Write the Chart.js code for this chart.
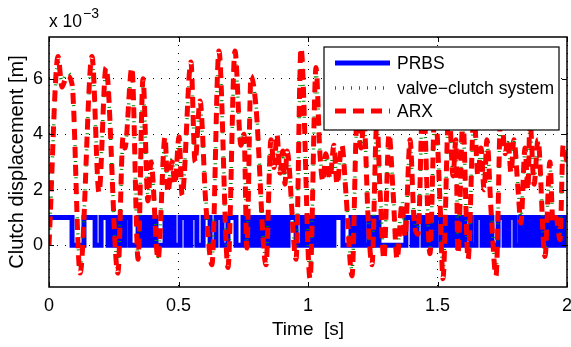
<!DOCTYPE html>
<html><head><meta charset="utf-8">
<script src="https://cdn.jsdelivr.net/npm/chart.js@4.4.0/dist/chart.umd.min.js"></script>
<style>html,body{margin:0;padding:0;background:#fff}#wrap{width:571px;height:347px;position:relative}</style>
</head><body><div id="wrap"><canvas id="c"></canvas></div>
<script>
// Tick values and labels
const timeTicks = [0, 0.5, 1, 1.5, 2];
const timeTickLabels = ['0', '0.5', '1', '1.5', '2'];
const dispTicks = [0, 2, 4, 6];           // in units of 10^-3 m
const dispTickLabels = ['0', '2', '4', '6'];

// Time stamps of the turning points of the responses [s]
const respT = [
  0.000, 0.035, 0.050, 0.069, 0.089, 0.120, 0.166, 0.193, 0.220, 0.266,
  0.286, 0.293, 0.320, 0.344, 0.363, 0.382, 0.394, 0.421, 0.448, 0.459,
  0.475, 0.486, 0.502, 0.514, 0.548, 0.564, 0.583, 0.606, 0.629, 0.656,
  0.691, 0.718, 0.741, 0.753, 0.764, 0.780, 0.799, 0.838, 0.857, 0.869,
  0.880, 0.892, 0.903, 0.911, 0.919, 0.954, 0.973, 1.008, 1.031, 1.046,
  1.058, 1.069, 1.085, 1.100, 1.112, 1.131, 1.147, 1.170, 1.189, 1.205,
  1.216, 1.232, 1.247, 1.266, 1.278, 1.293, 1.313, 1.328, 1.344, 1.363,
  1.375, 1.394, 1.409, 1.425, 1.444, 1.471, 1.490, 1.510, 1.521, 1.544,
  1.560, 1.571, 1.579, 1.598, 1.618, 1.641, 1.656, 1.668, 1.680, 1.691,
  1.707, 1.726, 1.745, 1.761, 1.772, 1.784, 1.795, 1.811, 1.822, 1.838,
  1.849, 1.857, 1.873, 1.888, 1.915, 1.934, 1.946, 1.958, 1.973, 1.985, 2.000
];
// ARX model output [10^-3 m]
const arxV = [
  0.0, 6.8, 5.7, 6.1, 5.8, -1.0, 6.8, 1.9, 6.4, -1.0,
  3.9, 3.5, 6.4, -0.5, 6.0, 1.6, 3.0, -0.5, 3.9, 1.9,
  3.0, 2.2, 3.9, 1.8, 6.6, 3.0, 5.2, 1.4, -0.7, 7.0,
  -0.8, 7.0, 3.6, 4.0, -0.1, 6.1, 5.0, -0.7, 3.8, 2.8,
  4.0, 2.6, 3.4, 2.2, 3.4, -0.5, 7.1, -1.2, 6.4, 3.3,
  2.3, 3.3, 2.4, 3.6, 2.2, 3.6, 1.8, -1.1, 4.5, 3.5,
  4.5, 1.0, -0.7, 4.5, 2.0, -0.5, 4.0, 2.0, -0.5, 1.5,
  0.3, 3.8, 1.0, 0.4, 5.5, -0.3, 5.0, 1.5, -1.2, 5.0,
  2.5, 3.8, -0.3, 4.5, -0.5, 4.8, 2.5, 3.5, 2.0, 3.8,
  1.2, -1.1, 5.0, 3.3, 3.8, 2.6, 3.8, 2.0, 0.8, 3.5,
  2.0, 4.5, 2.2, 3.8, -0.4, 3.0, 0.8, 1.0, 0.2, 3.6, 3.0
];
// valve-clutch system output [10^-3 m]
const sysV = [
  0.0, 6.6, 5.9, 6.2, 5.9, -0.8, 6.6, 2.1, 6.3, -0.9,
  3.7, 3.6, 6.2, -0.4, 5.8, 1.8, 3.1, -0.4, 3.7, 2.0,
  3.1, 2.3, 3.8, 1.9, 6.4, 3.2, 5.0, 1.6, -0.5, 6.8,
  -0.6, 6.8, 3.8, 4.1, 0.1, 5.9, 5.1, -0.5, 3.6, 2.9,
  3.9, 2.7, 3.3, 2.3, 3.3, -0.3, 6.9, -1.0, 6.2, 3.4,
  2.4, 3.2, 2.5, 3.5, 2.3, 3.5, 1.9, -0.9, 4.4, 3.6,
  4.4, 1.2, -0.5, 4.4, 2.1, -0.3, 3.9, 2.1, -0.3, 1.6,
  0.5, 3.7, 1.1, 0.6, 5.3, -0.1, 4.8, 1.7, -1.0, 4.8,
  2.6, 3.7, -0.1, 4.3, -0.3, 4.6, 2.6, 3.4, 2.1, 3.7,
  1.4, -0.9, 4.8, 3.4, 3.7, 2.7, 3.7, 2.1, 1.0, 3.4,
  2.1, 4.3, 2.3, 3.7, -0.2, 2.9, 1.0, 1.1, 0.4, 3.5, 3.1
];
// PRBS switching instants [s] and levels [10^-3 m]
const prbsT = [
  0,
  0.089, 0.135, 0.178, 0.201, 0.228, 0.247, 0.259, 0.270, 0.282, 0.293,
  0.313, 0.344, 0.359, 0.378, 0.390, 0.402, 0.413, 0.448, 0.459, 0.471,
  0.483, 0.506, 0.529, 0.548, 0.571, 0.595, 0.622, 0.645, 0.668, 0.691,
  0.722, 0.749, 0.764, 0.776, 0.788, 0.799, 0.811, 0.830, 0.846, 0.865,
  0.880, 0.896, 0.907, 0.923, 0.954, 0.977, 0.992, 1.008, 1.019, 1.031,
  1.042, 1.054, 1.066, 1.077, 1.089, 1.100, 1.135, 1.166, 1.185, 1.201,
  1.216, 1.236, 1.251, 1.263, 1.274, 1.378, 1.402, 1.421, 1.444, 1.459,
  1.475, 1.494, 1.514, 1.533, 1.544, 1.556, 1.568, 1.579, 1.591, 1.606,
  1.629, 1.649, 1.672, 1.691, 1.710, 1.734, 1.757, 1.776, 1.799, 1.819,
  1.838, 1.857, 1.876, 1.892, 1.903, 1.915, 1.927, 1.938, 1.950, 1.965,
  1.977, 1.988,
  2.000
];
const prbsV = [
  1,
  0,1,0,1,0,1,0,1,0,1,
  0,1,0,1,0,1,0,1,0,1,
  0,1,0,1,0,1,0,1,0,1,
  0,1,0,1,0,1,0,1,0,1,
  0,1,0,1,0,1,0,1,0,1,
  0,1,0,1,0,1,0,1,0,1,
  0,1,0,1,0,1,0,1,0,1,
  0,1,0,1,0,1,0,1,0,1,
  0,1,0,1,0,1,0,1,0,1,
  0,1,0,1,0,1,0,1,0,1,
  0,1,
  1
];

const FONT = '"Liberation Sans", Arial, Helvetica, sans-serif';
Chart.defaults.font.family = FONT;
Chart.defaults.color = '#000';

const pts = (xs, ys) => xs.map((t, i) => ({x: t, y: ys[i]}));

const frameTicks = {
  id: 'frameTicks',
  afterDatasetsDraw(chart) {
    const {ctx, chartArea: a, scales: {x, y}} = chart;
    ctx.save();
    ctx.strokeStyle = '#000';
    ctx.lineWidth = 1;
    ctx.beginPath();
    const L = 5;
    x.ticks.forEach(t => {
      const px = Math.round(x.getPixelForValue(t.value)) + 0.5;
      ctx.moveTo(px, a.bottom); ctx.lineTo(px, a.bottom - L);
      ctx.moveTo(px, a.top); ctx.lineTo(px, a.top + L);
    });
    y.ticks.forEach(t => {
      const py = Math.round(y.getPixelForValue(t.value)) + 0.5;
      ctx.moveTo(a.left, py); ctx.lineTo(a.left + L, py);
      ctx.moveTo(a.right, py); ctx.lineTo(a.right - L, py);
    });
    ctx.stroke();
    ctx.lineWidth = 1.5;
    ctx.strokeRect(a.left, a.top, a.right - a.left, a.bottom - a.top);
    ctx.restore();
  }
};

const legendAndExp = {
  id: 'legendAndExp',
  afterDraw(chart) {
    const {ctx, chartArea: a} = chart;
    const w = 235, h = 83;
    const lx = a.right - 8 - w, ly = a.top + 10;
    ctx.save();
    ctx.fillStyle = '#fff';
    ctx.fillRect(lx, ly, w, h);
    ctx.strokeStyle = '#000';
    ctx.lineWidth = 1.2;
    ctx.strokeRect(lx, ly, w, h);
    const ds = chart.data.datasets;
    const rows = [ds[2], ds[1], ds[0]];
    const rowY = [16, 41, 64];
    rows.forEach((d, i) => {
      const cy = ly + rowY[i];
      ctx.beginPath();
      ctx.strokeStyle = d.borderColor;
      ctx.lineWidth = d.borderWidth;
      ctx.setLineDash(d.borderDash || []);
      ctx.moveTo(lx + 11, cy);
      ctx.lineTo(lx + 66, cy);
      ctx.stroke();
      ctx.setLineDash([]);
      ctx.fillStyle = '#000';
      ctx.font = '17.5px ' + FONT;
      ctx.textBaseline = 'middle';
      ctx.textAlign = 'left';
      ctx.fillText(d.label, lx + 73, cy + 1);
    });
    // axis multiplier
    ctx.fillStyle = '#000';
    ctx.textBaseline = 'alphabetic';
    ctx.textAlign = 'left';
    ctx.font = '17.5px ' + FONT;
    const base = 'x 10';
    ctx.fillText(base, a.left, 27);
    const bw = ctx.measureText(base).width;
    ctx.font = '14px ' + FONT;
    ctx.fillText('\u22123', a.left + bw + 1, 18);
    ctx.restore();
  }
};

new Chart(document.getElementById('c'), {
  type: 'line',
  data: {
    datasets: [
      {
        label: 'ARX',
        data: pts(respT, arxV),
        borderColor: '#ff0000',
        borderWidth: 5,
        borderDash: [11, 7],
        cubicInterpolationMode: 'monotone',
        pointRadius: 0,
        fill: false
      },
      {
        label: 'valve\u2212clutch system',
        data: pts(respT, sysV),
        borderColor: 'rgb(0,135,0)',
        borderWidth: 3.5,
        borderDash: [1, 7],
        cubicInterpolationMode: 'monotone',
        pointRadius: 0,
        fill: false
      },
      {
        label: 'PRBS',
        data: pts(prbsT, prbsV),
        borderColor: '#0000ff',
        borderWidth: 5,
        stepped: 'before',
        pointRadius: 0,
        fill: false
      }
    ]
  },
  options: {
    responsive: true,
    maintainAspectRatio: false,
    animation: false,
    events: [],
    layout: {autoPadding: false, padding: {top: 37, right: 4, left: 0, bottom: 0}},
    plugins: {legend: {display: false}, tooltip: {enabled: false}},
    scales: {
      x: {
        type: 'linear',
        min: 0, max: 2,
        afterBuildTicks: s => { s.ticks = timeTicks.map(v => ({value: v})); },
        afterFit: s => { s.height = 60; s.paddingLeft = 0; s.paddingRight = 0; },
        ticks: {padding: 8, font: {size: 18}, color: '#000', maxRotation: 0, autoSkip: false,
                callback: (v, i) => timeTickLabels[i]},
        grid: {color: '#000', lineWidth: 1, drawTicks: false},
        border: {display: false, dash: [1, 7]},
        title: {display: true, text: 'Time  [s]', font: {size: 19}, color: '#000', padding: {top: 0, bottom: 6}}
      },
      y: {
        type: 'linear',
        min: -1.5, max: 7.5,
        afterBuildTicks: s => { s.ticks = dispTicks.map(v => ({value: v})); },
        afterFit: s => { s.width = 49; s.paddingTop = 0; s.paddingBottom = 0; },
        ticks: {padding: 6, font: {size: 18}, color: '#000', autoSkip: false,
                callback: (v, i) => dispTickLabels[i]},
        grid: {color: '#000', lineWidth: 1, drawTicks: false},
        border: {display: false, dash: [1, 7]},
        title: {display: true, text: 'Clutch displacement [m]', font: {size: 20}, color: '#000', padding: {top: 5, bottom: 0}}
      }
    }
  },
  plugins: [frameTicks, legendAndExp]
});
</script>
</body></html>
